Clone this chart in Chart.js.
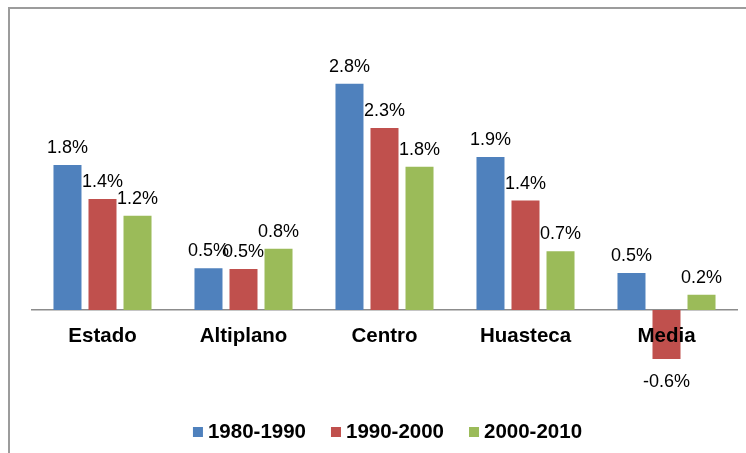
<!DOCTYPE html>
<html>
<head>
<meta charset="utf-8">
<script src="https://cdn.jsdelivr.net/npm/chart.js@4"></script>
<style>
  body { margin: 0; background: #fff; }
  #wrap { position: relative; width: 746px; height: 453px; }
</style>
</head>
<body>
<div id="wrap"><canvas id="growthChart"></canvas></div>
<script>
// Categories and series (values in %)
const categories = ['Estado', 'Altiplano', 'Centro', 'Huasteca', 'Media'];
const seriesNames = ['1980-1990', '1990-2000', '2000-2010'];
const values1980 = [1.8, 0.52, 2.81, 1.9, 0.46];
const values1990 = [1.38, 0.51, 2.26, 1.36, -0.61];
const values2000 = [1.17, 0.76, 1.78, 0.73, 0.19];
const seriesColors = ['#4F81BD', '#C0504D', '#9BBB59'];

const FONT = "'Liberation Sans', Arial, sans-serif";

// Gray frame around the chart (left and top edges)
const framePlugin = {
    id: 'frame',
    beforeDraw(chart) {
        const ctx = chart.ctx;
        ctx.save();
        ctx.fillStyle = '#9c9c9c';
        ctx.fillRect(8, 7, 2, chart.height - 7);
        ctx.fillRect(8, 7, chart.width - 8, 2);
        ctx.restore();
    }
};

// Value labels above / below each bar
const valueLabels = {
    id: 'valueLabels',
    afterDatasetsDraw(chart) {
        const ctx = chart.ctx;
        ctx.save();
        ctx.font = '18px ' + FONT;
        ctx.fillStyle = '#000';
        ctx.textAlign = 'center';
        ctx.textBaseline = 'alphabetic';
        chart.data.datasets.forEach((ds, i) => {
            const meta = chart.getDatasetMeta(i);
            meta.data.forEach((bar, j) => {
                const v = ds.data[j];
                const text = v.toFixed(1) + '%';
                const y = v >= 0 ? bar.y - 12 : bar.y + 28;
                ctx.fillText(text, bar.x, y);
            });
        });
        ctx.restore();
    }
};

// Legend drawn at the bottom, small squares and bold text
const bottomLegend = {
    id: 'bottomLegend',
    afterDraw(chart) {
        const ctx = chart.ctx;
        ctx.save();
        ctx.font = 'bold 20.5px ' + FONT;
        ctx.textBaseline = 'middle';
        ctx.textAlign = 'left';
        const box = 10, gap = 5, spacing = 25;
        const items = chart.data.datasets.map(ds => ({
            label: ds.label,
            color: ds.backgroundColor,
            w: box + gap + ctx.measureText(ds.label).width
        }));
        const total = items.reduce((s, it) => s + it.w, 0) + spacing * (items.length - 1);
        const center = (chart.chartArea.left + chart.chartArea.right) / 2 + 3;
        let x = center - total / 2;
        const y = 432;
        items.forEach(it => {
            ctx.fillStyle = it.color;
            ctx.fillRect(x, y - 5, box, box);
            ctx.fillStyle = '#000';
            ctx.fillText(it.label, x + box + gap, y);
            x += it.w + spacing;
        });
        ctx.restore();
    }
};

const data = {
    labels: categories,
    datasets: [
        { label: seriesNames[0], data: values1980, backgroundColor: seriesColors[0] },
        { label: seriesNames[1], data: values1990, backgroundColor: seriesColors[1] },
        { label: seriesNames[2], data: values2000, backgroundColor: seriesColors[2] }
    ]
};

const options = {
    responsive: true,
    maintainAspectRatio: false,
    animation: false,
    layout: {
        padding: { left: 32, right: 9, top: 68.5, bottom: 62.5 }
    },
    datasets: {
        bar: {
            categoryPercentage: 0.745,
            barPercentage: 0.8,
            borderWidth: 0
        }
    },
    plugins: {
        legend: { display: false },
        tooltip: { enabled: false }
    },
    scales: {
        x: {
            position: { y: 0 },
            grid: { display: false, drawTicks: false },
            border: { display: true, color: '#8c8c8c', width: 1.5 },
            ticks: {
                z: 1, // category names sit on top of the bars, like the original
                color: '#000',
                padding: 14,
                font: { family: FONT, size: 20.5, weight: 'bold' }
            }
        },
        y: {
            display: false,
            min: -1,
            max: 3
        }
    }
};

new Chart(document.getElementById('growthChart'), {
    type: 'bar',
    data: data,
    options: options,
    plugins: [framePlugin, valueLabels, bottomLegend]
});
</script>
</body>
</html>
